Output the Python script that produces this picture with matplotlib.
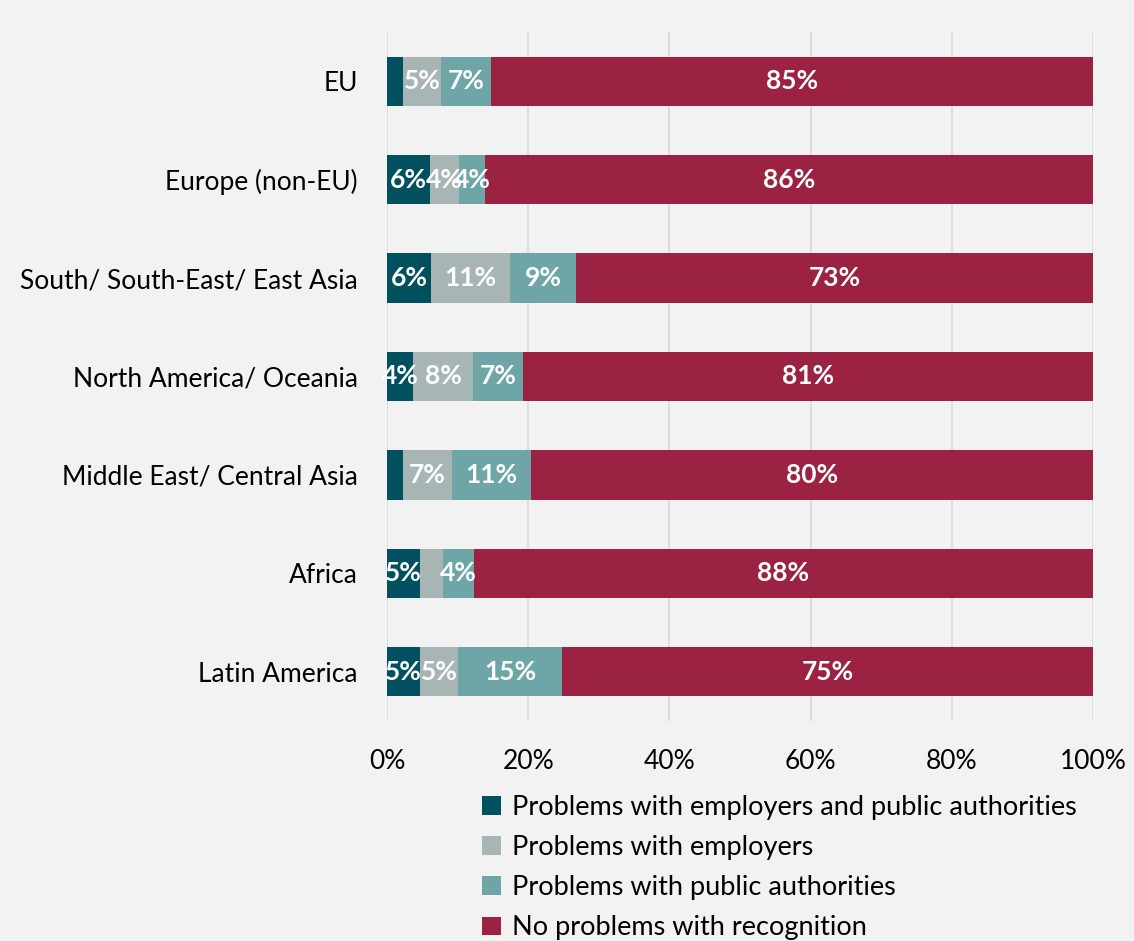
import matplotlib
matplotlib.use("Agg")
import matplotlib.pyplot as plt
import numpy as np

categories = ["EU", "Europe (non-EU)", "South/ South-East/ East Asia",
              "North America/ Oceania", "Middle East/ Central Asia",
              "Africa", "Latin America"]
series_names = ["Problems with employers and public authorities",
                "Problems with employers",
                "Problems with public authorities",
                "No problems with recognition"]
both = [2.3, 6.1, 6.2, 3.7, 2.3, 4.6, 4.7]
employers = [5.3, 4.1, 11.2, 8.5, 6.9, 3.3, 5.4]
authorities = [7.1, 3.7, 9.4, 7.1, 11.2, 4.4, 14.7]
no_problems = [85.3, 86.1, 73.2, 80.7, 79.6, 87.7, 75.2]
xtick_labels = ["0%", "20%", "40%", "60%", "80%", "100%"]

colors = ["#00505F", "#A7B5B4", "#6EA6A8", "#9B2242"]
bg = "#F2F2F2"

plt.rcParams['font.family'] = ['Lato', 'DejaVu Sans']

fig = plt.figure(figsize=(11.34, 9.41), dpi=100, facecolor=bg)
ax = fig.add_axes([0.3413, 0.2338, 0.6225, 0.7322], facecolor=bg)

data = [both, employers, authorities, no_problems]
y = np.arange(len(categories))
left = np.zeros(len(categories))
for vals, col, name in zip(data, colors, series_names):
    vals = np.array(vals)
    ax.barh(y, vals, left=left, height=0.5, color=col, label=name, zorder=3)
    for yi, (l, v) in enumerate(zip(left, vals)):
        if v >= 3.5:
            ax.text(l + v / 2, yi, f"{round(v):.0f}%", ha="center", va="center",
                    color="white", fontsize=19, fontweight="bold", zorder=4)
    left = left + vals

ax.set_ylim(len(categories) - 0.5, -0.5)
ax.set_xlim(0, 100)
ax.set_yticks(y)
ax.set_yticklabels(categories, fontsize=19)
ax.set_xticks(np.arange(0, 101, 20))
ax.set_xticklabels(xtick_labels, fontsize=19)
ax.tick_params(axis="y", length=0, pad=21)
ax.tick_params(axis="x", length=0, pad=20)
for s in ax.spines.values():
    s.set_visible(False)
ax.grid(axis="x", color="#D9D9D9", linewidth=1.2, zorder=0)
ax.set_axisbelow(True)

handles, labels = ax.get_legend_handles_labels()
leg = fig.legend(handles, labels, loc="upper left", bbox_to_anchor=(0.4153, 0.1667),
                 frameon=False, fontsize=19.5, handlelength=0.7, handleheight=0.7,
                 handletextpad=0.4, labelspacing=0.56, borderaxespad=0)

fig.savefig("out.png", dpi=100, facecolor=bg)
